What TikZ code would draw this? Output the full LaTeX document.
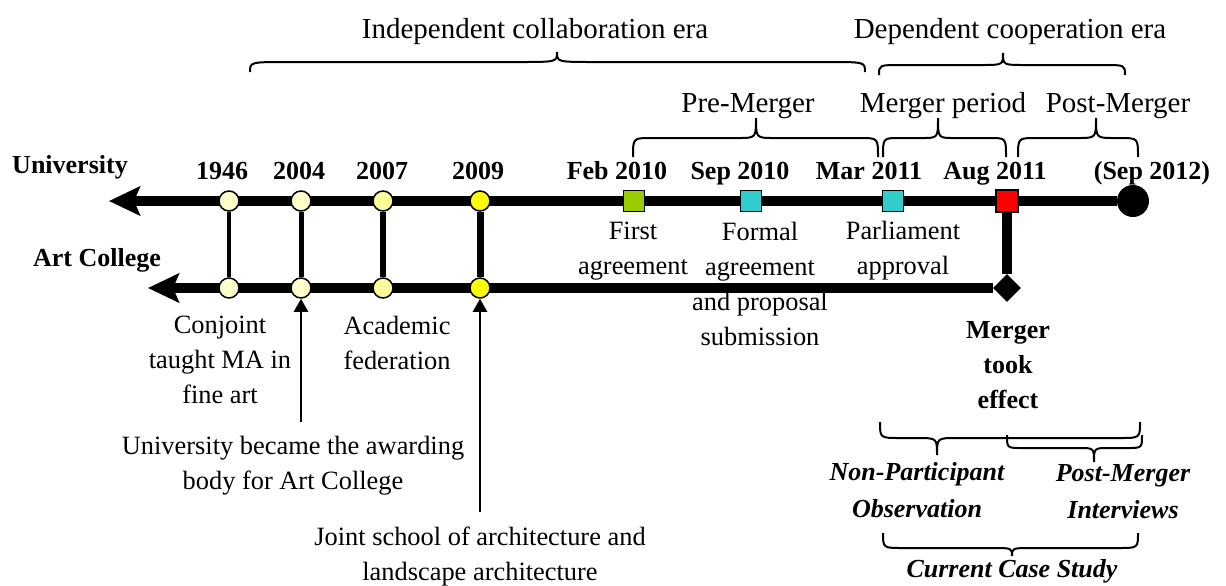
\documentclass[tikz,border=0pt]{standalone}
\usepackage{fontspec}
\setmainfont{Liberation Serif}
\usepackage{xcolor}
\usetikzlibrary{arrows.meta}
\usetikzlibrary{shapes.geometric}
\pgfdeclarelayer{bg}
\pgfsetlayers{bg,main}
\definecolor{paleyellow}{HTML}{FFFFCC}
\definecolor{lightyellow}{HTML}{FFFF99}
\definecolor{fullyellow}{HTML}{FFFF00}
\definecolor{limegreen}{HTML}{99CC00}
\definecolor{teal}{HTML}{33CCCC}
\newcommand{\notefont}{\fontsize{13.2}{17.5}\selectfont}
\newcommand{\titlefont}{\fontsize{14.5}{17.5}\selectfont}
\newcommand{\boldfont}{\fontsize{13}{17.5}\selectfont\bfseries}
\newcommand{\curly}[7]{\draw[brc] (#1,#4) .. controls (#1,#5) .. ({#1+#7},#5) -- ({#2-#7},#5) .. controls (#2,#5) .. (#2,#6) .. controls (#2,#5) .. ({#2+#7},#5) -- ({#3-#7},#5) .. controls (#3,#5) .. (#3,#4);}

\begin{document}
\begin{tikzpicture}[x=0.5pt,y=-0.5pt,font=\notefont]
\useasboundingbox (0,0) rectangle (1226,585);
\tikzset{>={Stealth[length=15.5pt,width=14.5pt,inset=3pt]}}
\tikzstyle{evt} =[circle, draw, line width=0.75pt, inner sep=0pt, minimum size=10pt]
\tikzstyle{milestone} =[rectangle, draw, line width=0.75pt, inner sep=0pt, minimum size=10.5pt]
\tikzstyle{yearlbl} =[font=\boldfont, anchor=base]
\tikzstyle{note} =[align=center]
\tikzstyle{era} =[font=\titlefont, anchor=base]
\tikzstyle{study} =[align=center, font=\boldfont\itshape\fontsize{13}{18.5}\selectfont]
\tikzstyle{brc} =[line width=1pt]
\tikzstyle{pointer} =[-{Triangle[length=6.5pt,width=7pt]}, line width=1.2pt]

\node[font=\boldfont, anchor=base] (uni) at (70,173) {University};
\node[font=\boldfont, anchor=base] (art) at (97,266) {Art College};

\node[evt, fill=paleyellow] (u1946) at (229,201) {};
\node[evt, fill=paleyellow] (u2004) at (301,201) {};
\node[evt, fill=lightyellow] (u2007) at (383,201) {};
\node[evt, fill=fullyellow] (u2009) at (480,201) {};
\node[evt, fill=paleyellow] (c1946) at (229,288) {};
\node[evt, fill=paleyellow] (c2004) at (301,288) {};
\node[evt, fill=lightyellow] (c2007) at (383,288) {};
\node[evt, fill=fullyellow] (c2009) at (480,288) {};

\node[milestone, fill=limegreen] (feb) at (634,201) {};
\node[milestone, fill=teal] (sep) at (751,201) {};
\node[milestone, fill=teal] (mar) at (893,201) {};
\node[milestone, fill=red, minimum size=11pt] (aug) at (1007,201) {};
\node[circle, fill=black, inner sep=0pt, minimum size=16pt] (uend) at (1133,201) {};
\node[diamond, fill=black, inner sep=0pt, minimum size=14pt] (ceff) at (1007,288) {};
\coordinate (utip) at (109,201);
\coordinate (ctip) at (148,288);

\node[yearlbl] (y1946) at (222,179) {1946};
\node[yearlbl] (y2004) at (299,179) {2004};
\node[yearlbl] (y2007) at (382,179) {2007};
\node[yearlbl] (y2009) at (478,179) {2009};
\node[yearlbl] (yfeb) at (617,179) {Feb 2010};
\node[yearlbl] (ysep) at (740,179) {Sep 2010};
\node[yearlbl] (ymar) at (869,179) {Mar 2011};
\node[yearlbl] (yaug) at (995,179) {Aug 2011};
\node[yearlbl] (yend) at (1152,179) {(Sep 2012)};

\begin{pgfonlayer}{bg}
\draw[->, line width=5pt] (uend) -- (utip);
\draw[->, line width=5pt] (ceff) -- (ctip);
\draw[line width=2pt] (u1946) -- (c1946);
\draw[line width=2.5pt] (u2004) -- (c2004);
\draw[line width=3pt] (u2007) -- (c2007);
\draw[line width=3.5pt] (u2009) -- (c2009);
\draw[line width=5pt] (aug) -- (ceff);
\end{pgfonlayer}

\node[note] (first) at (633,251) {First\\agreement};
\node[note] (formal) at (760,284) {Formal\\agreement\\and proposal\\submission};
\node[note] (parl) at (903,251) {Parliament\\approval};
\node[note] (conj) at (220,360) {Conjoint\\taught MA in\\fine art};
\node[note] (acad) at (397,343) {Academic\\federation};
\node[note] (award) at (293,466) {University became the awarding\\body for Art College};
\node[note] (joint) at (480,557) {Joint school of architecture and\\landscape architecture};
\node[note, font=\boldfont] (took) at (1008,365) {Merger\\took\\effect};

\coordinate (s2004) at (301,422);
\coordinate (s2009) at (480,512);
\draw[pointer] (s2004) -- (c2004);
\draw[pointer] (s2009) -- (c2009);

\node[era] (indep) at (535,38) {Independent collaboration era};
\node[era] (dep) at (1010,38) {Dependent cooperation era};
\node[era] (pre) at (748,112) {Pre-Merger};
\node[era] (mper) at (943,112) {Merger period};
\node[era] (post) at (1118,112) {Post-Merger};
\curly{250}{557}{865}{72}{62}{52}{38}
\curly{879}{1003}{1125}{75}{65}{53}{22}
\curly{633}{756}{878}{157}{138}{118}{18}
\curly{883}{938}{1006}{157}{138}{118}{16}
\curly{1018}{1096}{1138}{157}{138}{118}{18}

\curly{880}{937}{1140}{422}{438}{455}{20}
\curly{1007}{1094}{1142}{435}{448}{462}{15}
\curly{883}{1012}{1138}{533}{548}{556}{20}
\node[study] (npo) at (917,490) {Non-Participant\\Observation};
\node[study] (pmi) at (1123,492) {Post-Merger\\Interviews};
\node[study, anchor=base] (ccs) at (1012,577) {Current Case Study};
\end{tikzpicture}
\end{document}
